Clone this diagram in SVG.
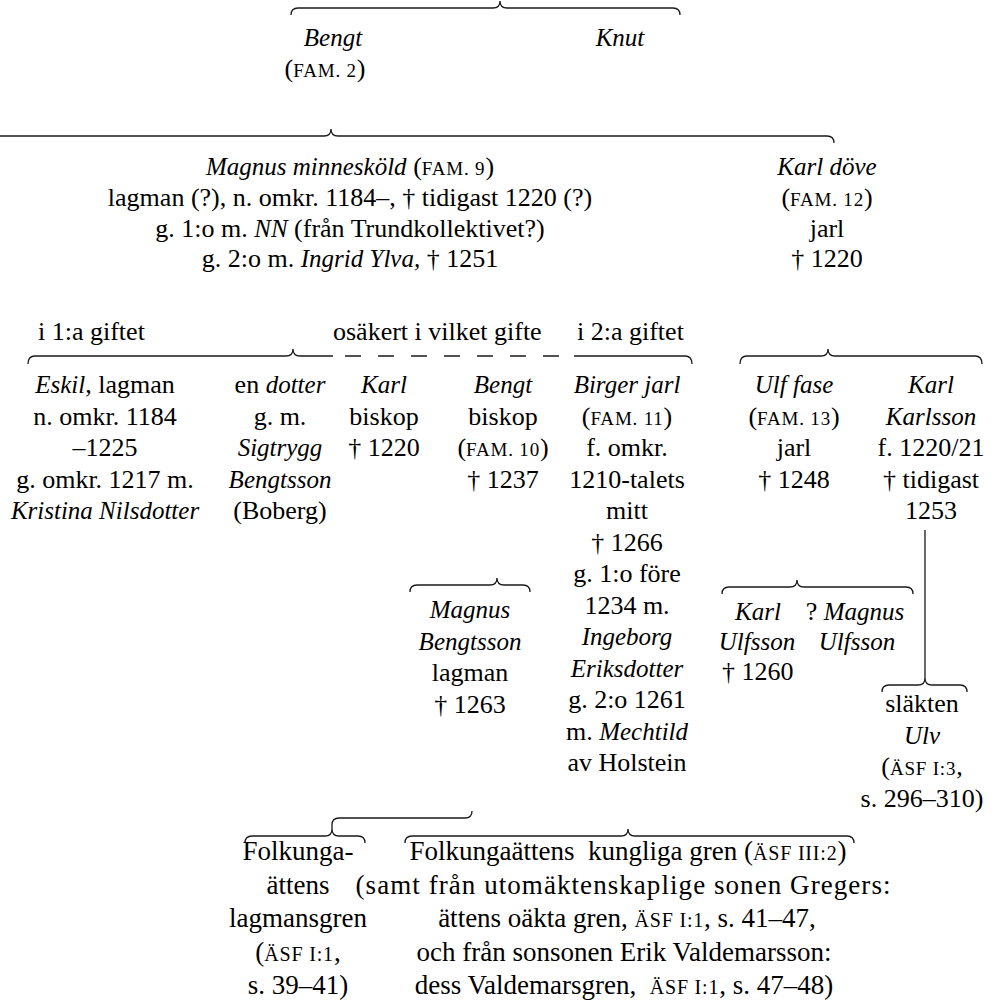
<svg xmlns="http://www.w3.org/2000/svg" width="994" height="1003" viewBox="0 0 994 1003">
<style>
.t{font-family:"Liberation Serif","Times New Roman",serif;font-size:26px;fill:#000;text-anchor:middle}
.s{text-anchor:start}
.i{font-style:italic;font-size:25px}
.sc{font-size:19px;letter-spacing:0.8px}
.b{font-size:27px}
.b .sc{font-size:20px}
.pre{white-space:pre}
.c{fill:none;stroke:#1a1a1a;stroke-width:1.3}
.d{stroke-dasharray:16 17}
</style>
<rect width="994" height="1003" fill="#fff"/>
<g id="connectors">
<path class="c" d="M291,15 Q291,8 298,8 L493,8 Q500,8 500,1 Q500,8 507,8 L673,8 Q680,8 680,15"/>
<path class="c" d="M-10,136 L324,136 Q331,136 331,129 Q331,136 338,136 L827,136 Q834,136 834,143"/>
<path class="c" d="M28,364 Q28,356 35,356 L286,356 Q293,356 293,349 Q293,356 300,356 L333,356"/>
<path class="c d" d="M345,356 L562,356"/>
<path class="c" d="M574,356 L685,356 Q692,356 692,364"/>
<path class="c" d="M740,364 Q740,356 747,356 L821,356 Q828,356 828,349 Q828,356 835,356 L975,356 Q982,356 982,364"/>
<path class="c" d="M410,592 Q410,585 417,585 L490,585 Q497,585 497,578 Q497,585 504,585 L523,585 Q530,585 530,592"/>
<path class="c" d="M722,594 Q722,587 729,587 L790,587 Q797,587 797,580 Q797,587 804,587 L906,587 Q913,587 913,594"/>
<path class="c" d="M925,530 L925,678"/>
<path class="c" d="M882,692 Q882,685 889,685 L918,685 Q925,685 925,678 Q925,685 932,685 L960,685 Q967,685 967,692"/>
<path class="c" d="M245,843 Q245,836 252,836 L325,836 Q332,836 332,829 Q332,836 339,836 L358,836 Q365,836 365,843"/>
<path class="c" d="M332,829 L332,825 Q332,818 339,818 L465,818 Q472,818 472,811"/>
<path class="c" d="M405,843 Q405,836 412,836 L621,836 Q628,836 628,829 Q628,836 635,836 L847,836 Q854,836 854,843"/>
</g>
<g id="n-bengt"><text class="t i" x="333" y="46">Bengt</text><text class="t" x="325" y="77">(<tspan class="sc">FAM. 2</tspan>)</text></g>
<g id="n-knut"><text class="t i" x="620" y="46">Knut</text></g>
<g id="n-magnus-minneskold">
<text class="t" x="350" y="175"><tspan class="i">Magnus minnesköld</tspan> (<tspan class="sc">FAM. 9</tspan>)</text>
<text class="t" x="350" y="206">lagman (?), n. omkr. 1184–, † tidigast 1220 (?)</text>
<text class="t" x="350" y="237">g. 1:o m. <tspan class="i">NN</tspan> (från Trundkollektivet?)</text>
<text class="t" x="350" y="267">g. 2:o m. <tspan class="i">Ingrid Ylva,</tspan> † 1251</text>
</g>
<g id="n-karl-dove">
<text class="t i" x="827" y="175">Karl döve</text>
<text class="t" x="827" y="206">(<tspan class="sc">FAM. 12</tspan>)</text>
<text class="t" x="827" y="237">jarl</text>
<text class="t" x="827" y="267">† 1220</text>
</g>
<g id="labels">
<text class="t s" x="38" y="340">i 1:a giftet</text>
<text class="t s" x="333" y="340">osäkert i vilket gifte</text>
<text class="t s" x="577" y="340">i 2:a giftet</text>
</g>
<g id="n-eskil">
<text class="t" x="105" y="393"><tspan class="i">Eskil</tspan>, lagman</text>
<text class="t" x="105" y="424.5">n. omkr. 1184</text>
<text class="t" x="105" y="456">–1225</text>
<text class="t" x="105" y="487.5">g. omkr. 1217 m.</text>
<text class="t i" x="105" y="519">Kristina Nilsdotter</text>
</g>
<g id="n-dotter">
<text class="t" x="280" y="393">en <tspan class="i">dotter</tspan></text>
<text class="t" x="280" y="424.5">g. m.</text>
<text class="t i" x="280" y="456">Sigtrygg</text>
<text class="t i" x="280" y="487.5">Bengtsson</text>
<text class="t" x="280" y="519">(Boberg)</text>
</g>
<g id="n-karl-biskop">
<text class="t i" x="384" y="393">Karl</text>
<text class="t" x="384" y="424.5">biskop</text>
<text class="t" x="384" y="456">† 1220</text>
</g>
<g id="n-bengt-biskop">
<text class="t i" x="503" y="393">Bengt</text>
<text class="t" x="503" y="424.5">biskop</text>
<text class="t" x="503" y="456">(<tspan class="sc">FAM. 10</tspan>)</text>
<text class="t" x="503" y="487.5">† 1237</text>
</g>
<g id="n-birger">
<text class="t i" x="627" y="393">Birger jarl</text>
<text class="t" x="627" y="424.5">(<tspan class="sc">FAM. 11</tspan>)</text>
<text class="t" x="627" y="456">f. omkr.</text>
<text class="t" x="627" y="487.5">1210-talets</text>
<text class="t" x="627" y="519">mitt</text>
<text class="t" x="627" y="550.5">† 1266</text>
<text class="t" x="627" y="582">g. 1:o före</text>
<text class="t" x="627" y="613.5">1234 m.</text>
<text class="t i" x="627" y="645">Ingeborg</text>
<text class="t i" x="627" y="676.5">Eriksdotter</text>
<text class="t" x="627" y="708">g. 2:o 1261</text>
<text class="t" x="627" y="739.5">m. <tspan class="i">Mechtild</tspan></text>
<text class="t" x="627" y="771">av Holstein</text>
</g>
<g id="n-ulf-fase">
<text class="t i" x="794" y="393">Ulf fase</text>
<text class="t" x="794" y="424.5">(<tspan class="sc">FAM. 13</tspan>)</text>
<text class="t" x="794" y="456">jarl</text>
<text class="t" x="794" y="487.5">† 1248</text>
</g>
<g id="n-karl-karlsson">
<text class="t i" x="931" y="393">Karl</text>
<text class="t i" x="931" y="424.5">Karlsson</text>
<text class="t" x="931" y="456">f. 1220/21</text>
<text class="t" x="931" y="487.5">† tidigast</text>
<text class="t" x="931" y="519">1253</text>
</g>
<g id="n-magnus-bengtsson">
<text class="t i" x="470" y="618">Magnus</text>
<text class="t i" x="470" y="649.5">Bengtsson</text>
<text class="t" x="470" y="681">lagman</text>
<text class="t" x="470" y="712.5">† 1263</text>
</g>
<g id="n-karl-ulfsson">
<text class="t i" x="758" y="620">Karl</text>
<text class="t i" x="757" y="650">Ulfsson</text>
<text class="t s" x="722" y="680">† 1260</text>
</g>
<g id="n-magnus-ulfsson">
<text class="t" x="855" y="620">? <tspan class="i">Magnus</tspan></text>
<text class="t i" x="857" y="650">Ulfsson</text>
</g>
<g id="n-slakten-ulv">
<text class="t" x="922" y="712">släkten</text>
<text class="t i" x="922" y="743.5">Ulv</text>
<text class="t" x="922" y="775">(<tspan class="sc">ÄSF I:3</tspan>,</text>
<text class="t" x="922" y="806.5">s. 296–310)</text>
</g>
<g id="n-lagmansgren">
<text class="t b" x="298" y="860">Folkunga-</text>
<text class="t b" x="298" y="893.5">ättens</text>
<text class="t b" x="298" y="927">lagmansgren</text>
<text class="t b" x="298" y="960.5">(<tspan class="sc">ÄSF I:1</tspan>,</text>
<text class="t b" x="298" y="994">s. 39–41)</text>
</g>
<g id="n-kungliga-gren">
<text class="t b pre" x="628" y="860">Folkungaättens  kungliga gren (<tspan class="sc">ÄSF III:2</tspan>)</text>
<text class="t b" x="623" y="893.5" textLength="535" lengthAdjust="spacing">(samt från utomäktenskaplige sonen Gregers:</text>
<text class="t b" x="627" y="927">ättens oäkta gren, <tspan class="sc">ÄSF I:1</tspan>, s. 41–47,</text>
<text class="t b" x="624" y="960.5">och från sonsonen Erik Valdemarsson:</text>
<text class="t b pre" x="624" y="994">dess Valdemarsgren,  <tspan class="sc">ÄSF I:1</tspan>, s. 47–48)</text>
</g>
</svg>
